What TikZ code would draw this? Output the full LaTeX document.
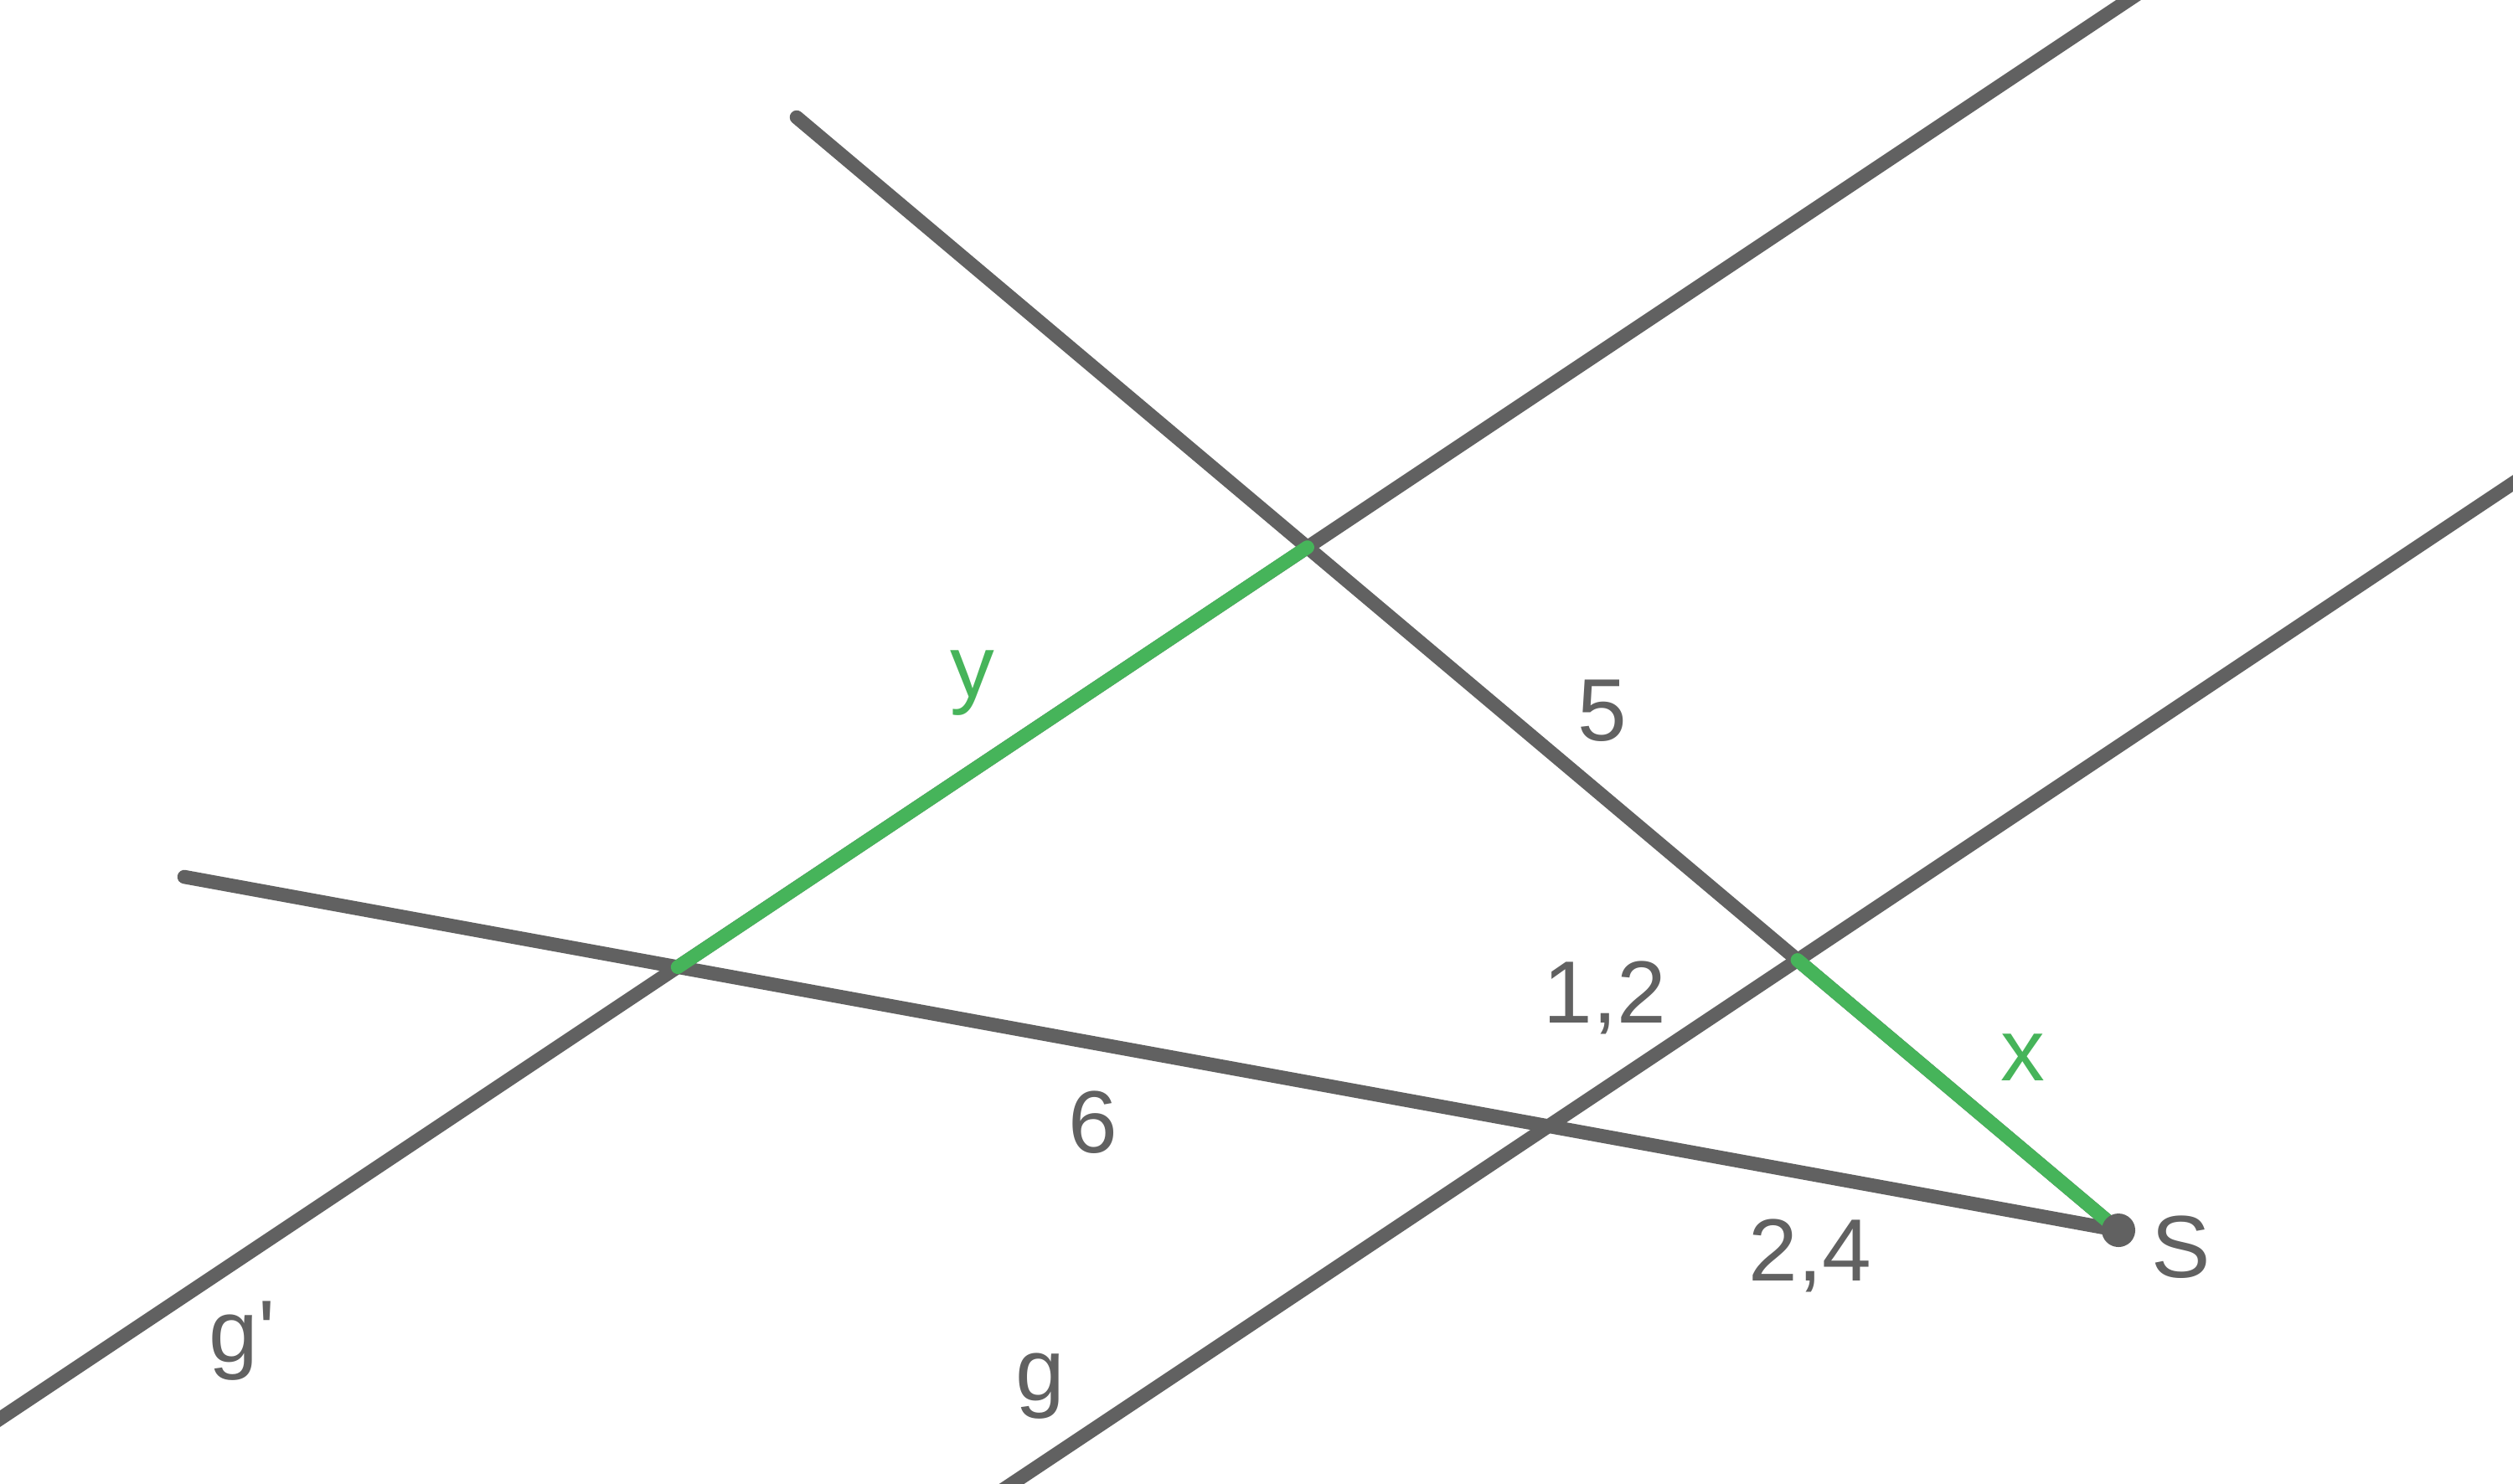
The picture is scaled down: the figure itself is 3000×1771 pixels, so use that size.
\documentclass[tikz,border=0pt]{standalone}
\usepackage{fontspec}
\setmainfont{Liberation Sans}
\definecolor{lgray}{RGB}{97,97,97}
\definecolor{lgreen}{RGB}{70,180,90}
\begin{document}
\begin{tikzpicture}[x=0.01cm,y=-0.01cm,line cap=round,
  gline/.style={draw=lgray,line width=4.7pt},
  grline/.style={draw=lgreen,line width=4.7pt},
  lbl/.style={anchor=base,inner sep=0pt,font=\fontsize{30}{36}\selectfont,text=lgray},
  glbl/.style={lbl,text=lgreen}]
\useasboundingbox (0,0) rectangle (3000,1771);
\clip (0,0) rectangle (3000,1771);
\coordinate (S) at (2529,1469);
\coordinate (P1) at (951,140);
\coordinate (P2) at (220,1047);
\coordinate (Ga) at (-150,1794);
\coordinate (Gb) at (2691,-100);
\coordinate (Ha) at (1059,1871);
\coordinate (Hb) at (3150,477);
\coordinate (A) at (intersection of Ga--Gb and P2--S);
\coordinate (B) at (intersection of Ga--Gb and P1--S);
\coordinate (C) at (intersection of Ha--Hb and P1--S);
\coordinate (D) at (intersection of Ha--Hb and P2--S);
\draw[gline] (Ga) -- (Gb);
\draw[gline] (Ha) -- (Hb);
\draw[gline] (P1) -- (S);
\draw[gline] (P2) -- (S);
\draw[grline] (A) -- (B);
\draw[grline] (C) -- (S);
\fill[lgray] (S) circle[radius=0.2cm];
\node[glbl] (ly) at (1161,832) {y};
\node[lbl] (l5) at (1913,884) {5};
\node[lbl] (l12) at (1916,1221) {1,2};
\node[glbl] (lx) at (2415,1290) {x};
\node[lbl] (l6) at (1305,1376) {6};
\node[lbl] (l24) at (2161,1529) {2,4};
\node[lbl] (lS) at (2604,1525) {S};
\node[lbl] (lgp) at (289,1626) {g\textquotesingle};
\node[lbl] (lg) at (1242,1672) {g};
\end{tikzpicture}
\end{document}
